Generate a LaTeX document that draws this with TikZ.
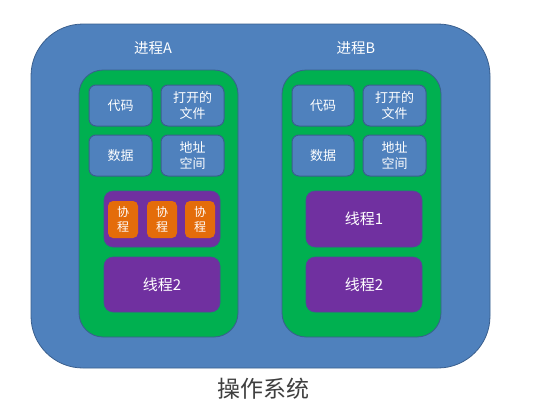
\documentclass[tikz,border=0pt]{standalone}
\usepackage{fontspec}
\newfontfamily\cjk{Noto Sans CJK SC}
\definecolor{osblue}{HTML}{4F81BD}
\definecolor{edgeblue}{HTML}{3A5F8E}
\definecolor{procgreen}{HTML}{00B050}
\definecolor{thpurple}{HTML}{7030A0}
\definecolor{coorange}{HTML}{E46C0A}
\definecolor{ostext}{HTML}{3F3F3F}
\begin{document}
\begin{tikzpicture}[x=1pt,y=-1pt,
  osbox/.style={fill=osblue,draw=edgeblue,line width=0.8pt,rounded corners=52pt},
  procbox/.style={fill=procgreen,draw=edgeblue,line width=0.8pt,rounded corners=24pt},
  resbox/.style={fill=osblue,draw=edgeblue,line width=1pt,rounded corners=7pt,text=white,font=\cjk\fontsize{13}{16}\selectfont,align=center,inner sep=0pt},
  thbox/.style={fill=thpurple,draw=edgeblue!60!thpurple,line width=0.6pt,rounded corners=9pt,text=white,font=\cjk\fontsize{15}{17}\selectfont,align=center,inner sep=0pt},
  cobox/.style={fill=coorange,draw=none,rounded corners=5pt,text=white,font=\cjk\fontsize{12}{15}\selectfont,align=center,inner sep=0pt},
  plabel/.style={text=white,font=\cjk\fontsize{14.5}{16}\selectfont,inner sep=0pt}
]
\useasboundingbox (0,0) rectangle (546,407);
\fill[white] (0,0) rectangle (546,407);
% OS
\draw[osbox] (31,24) rectangle (490,368);
\node[text=ostext,font=\cjk\fontsize{23}{26}\selectfont,inner sep=0pt] (os) at (263,389) {操作系统};
% Process A
\draw[procbox] (79,70) rectangle (238,337);
\node[plabel] (pa) at (153,48) {进程A};
\node[resbox,minimum width=63pt,minimum height=41pt] (acode) at (120.5,105.5) {代码};
\node[resbox,minimum width=63pt,minimum height=41pt] (afile) at (192.5,105.5) {打开的\\文件};
\node[resbox,minimum width=63pt,minimum height=41pt] (adata) at (120.5,155.5) {数据};
\node[resbox,minimum width=63pt,minimum height=41pt] (aaddr) at (192.5,155.5) {地址\\空间};
\node[thbox,minimum width=116pt,minimum height=56pt] (ath1) at (162,219) {};
\node[cobox,minimum width=30pt,minimum height=37pt] (co1) at (123,219.5) {协\\程};
\node[cobox,minimum width=30pt,minimum height=37pt] (co2) at (162,219.5) {协\\程};
\node[cobox,minimum width=30pt,minimum height=37pt] (co3) at (200,219.5) {协\\程};
\node[thbox,minimum width=116pt,minimum height=55pt] (ath2) at (162,284.5) {线程2};
% Process B
\draw[procbox] (282,70) rectangle (441,337);
\node[plabel] (pb) at (356,48) {进程B};
\node[resbox,minimum width=62pt,minimum height=41pt] (bcode) at (323,105.5) {代码};
\node[resbox,minimum width=63pt,minimum height=41pt] (bfile) at (394.5,105.5) {打开的\\文件};
\node[resbox,minimum width=62pt,minimum height=41pt] (bdata) at (323,155.5) {数据};
\node[resbox,minimum width=63pt,minimum height=41pt] (baddr) at (394.5,155.5) {地址\\空间};
\node[thbox,minimum width=116pt,minimum height=56pt] (bth1) at (364,219) {线程1};
\node[thbox,minimum width=116pt,minimum height=55pt] (bth2) at (364,284.5) {线程2};
\end{tikzpicture}
\end{document}
